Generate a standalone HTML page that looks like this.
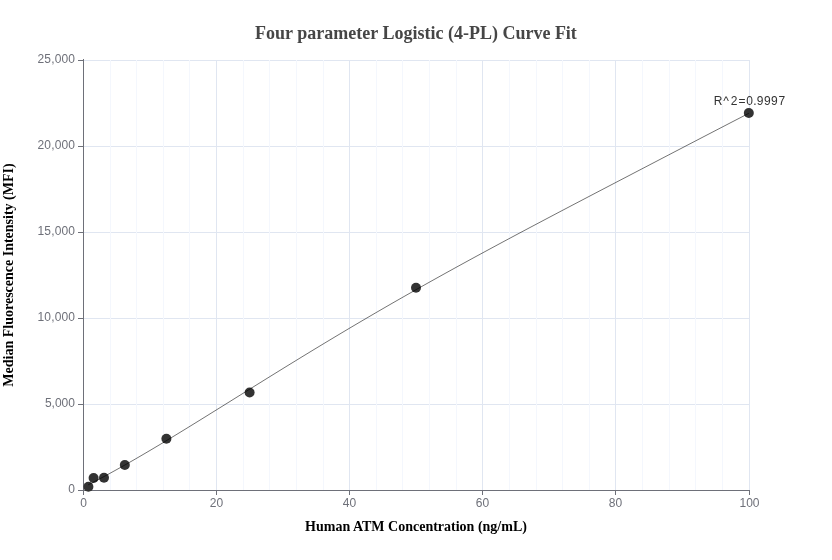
<!DOCTYPE html>
<html><head><meta charset="utf-8"><style>
html,body{margin:0;padding:0;background:#fff;}
body{width:832px;height:560px;overflow:hidden;}
svg{display:block;will-change:transform;}
</style></head><body>
<svg width="832" height="560" viewBox="0 0 832 560">
<rect width="832" height="560" fill="#ffffff"/>
<text x="416" y="39.3" text-anchor="middle" font-family="Liberation Serif" font-weight="bold" font-size="18" fill="#464646">Four parameter Logistic (4-PL) Curve Fit</text>
<g stroke="#E0E6F1" stroke-width="1" shape-rendering="crispEdges"><line x1="216.5" y1="60" x2="216.5" y2="490" /><line x1="349.5" y1="60" x2="349.5" y2="490" /><line x1="482.5" y1="60" x2="482.5" y2="490" /><line x1="615.5" y1="60" x2="615.5" y2="490" /><line x1="749.5" y1="60" x2="749.5" y2="490" /><line x1="83" y1="404.5" x2="749" y2="404.5" /><line x1="83" y1="318.5" x2="749" y2="318.5" /><line x1="83" y1="232.5" x2="749" y2="232.5" /><line x1="83" y1="146.5" x2="749" y2="146.5" /><line x1="83" y1="60.5" x2="749" y2="60.5" /></g>
<g stroke="#F4F7FD" stroke-width="1" shape-rendering="crispEdges"><line x1="110.5" y1="60" x2="110.5" y2="490" /><line x1="136.5" y1="60" x2="136.5" y2="490" /><line x1="163.5" y1="60" x2="163.5" y2="490" /><line x1="189.5" y1="60" x2="189.5" y2="490" /><line x1="243.5" y1="60" x2="243.5" y2="490" /><line x1="269.5" y1="60" x2="269.5" y2="490" /><line x1="296.5" y1="60" x2="296.5" y2="490" /><line x1="323.5" y1="60" x2="323.5" y2="490" /><line x1="376.5" y1="60" x2="376.5" y2="490" /><line x1="402.5" y1="60" x2="402.5" y2="490" /><line x1="429.5" y1="60" x2="429.5" y2="490" /><line x1="456.5" y1="60" x2="456.5" y2="490" /><line x1="509.5" y1="60" x2="509.5" y2="490" /><line x1="536.5" y1="60" x2="536.5" y2="490" /><line x1="562.5" y1="60" x2="562.5" y2="490" /><line x1="589.5" y1="60" x2="589.5" y2="490" /><line x1="642.5" y1="60" x2="642.5" y2="490" /><line x1="669.5" y1="60" x2="669.5" y2="490" /><line x1="695.5" y1="60" x2="695.5" y2="490" /><line x1="722.5" y1="60" x2="722.5" y2="490" /></g>
<g stroke="#6E7079" stroke-width="1" shape-rendering="crispEdges">
<line x1="83.5" y1="59" x2="83.5" y2="491"/>
<line x1="83" y1="490.5" x2="750" y2="490.5"/>
<line x1="78" y1="490.5" x2="83" y2="490.5" /><line x1="78" y1="404.5" x2="83" y2="404.5" /><line x1="78" y1="318.5" x2="83" y2="318.5" /><line x1="78" y1="232.5" x2="83" y2="232.5" /><line x1="78" y1="146.5" x2="83" y2="146.5" /><line x1="78" y1="60.5" x2="83" y2="60.5" /><line x1="83.5" y1="490" x2="83.5" y2="495" /><line x1="216.5" y1="490" x2="216.5" y2="495" /><line x1="349.5" y1="490" x2="349.5" y2="495" /><line x1="482.5" y1="490" x2="482.5" y2="495" /><line x1="615.5" y1="490" x2="615.5" y2="495" /><line x1="749.5" y1="490" x2="749.5" y2="495" /></g>
<g font-family="Liberation Sans" font-size="12" fill="#6E7079"><text x="75" y="492.8" text-anchor="end" textLength="6.9" lengthAdjust="spacing">0</text><text x="75" y="406.8" text-anchor="end" textLength="30.1" lengthAdjust="spacing">5,000</text><text x="75" y="320.8" text-anchor="end" textLength="37.5" lengthAdjust="spacing">10,000</text><text x="75" y="234.8" text-anchor="end" textLength="37.5" lengthAdjust="spacing">15,000</text><text x="75" y="148.8" text-anchor="end" textLength="37.5" lengthAdjust="spacing">20,000</text><text x="75" y="62.8" text-anchor="end" textLength="37.5" lengthAdjust="spacing">25,000</text><text x="83.5" y="507" text-anchor="middle">0</text><text x="216.5" y="507" text-anchor="middle">20</text><text x="349.5" y="507" text-anchor="middle">40</text><text x="482.5" y="507" text-anchor="middle">60</text><text x="615.5" y="507" text-anchor="middle">80</text><text x="749.5" y="507" text-anchor="middle">100</text></g>
<g fill="#333333"><circle cx="88.40" cy="486.7" r="5" /><circle cx="93.60" cy="478" r="5" /><circle cx="104.00" cy="477.7" r="5" /><circle cx="124.80" cy="465" r="5" /><circle cx="166.40" cy="438.7" r="5" /><circle cx="249.60" cy="392.5" r="5" /><circle cx="416.00" cy="287.8" r="5" /><circle cx="748.80" cy="113" r="5" /></g>
<polyline points="88.20,484.82 92.00,482.87 98.00,479.73 104.00,476.54 110.00,473.29 116.00,469.98 122.00,466.63 128.00,463.24 134.00,459.80 140.00,456.32 146.00,452.81 152.00,449.27 158.00,445.70 164.00,442.10 170.00,438.47 176.00,434.83 182.00,431.17 188.00,427.49 194.00,423.79 200.00,420.08 206.00,416.37 212.00,412.64 218.00,408.91 224.00,405.18 230.00,401.44 236.00,397.70 242.00,393.96 248.00,390.22 254.00,386.48 260.00,382.75 266.00,379.03 272.00,375.31 278.00,371.60 284.00,367.89 290.00,364.20 296.00,360.52 302.00,356.84 308.00,353.18 314.00,349.53 320.00,345.90 326.00,342.27 332.00,338.67 338.00,335.07 344.00,331.49 350.00,327.92 356.00,324.37 362.00,320.84 368.00,317.32 374.00,313.81 380.00,310.32 386.00,306.85 392.00,303.39 398.00,299.95 404.00,296.52 410.00,293.11 416.00,289.71 422.00,286.32 428.00,282.95 434.00,279.60 440.00,276.26 446.00,272.93 452.00,269.61 458.00,266.31 464.00,263.02 470.00,259.74 476.00,256.47 482.00,253.22 488.00,249.97 494.00,246.74 500.00,243.51 506.00,240.29 512.00,237.08 518.00,233.88 524.00,230.69 530.00,227.51 536.00,224.33 542.00,221.16 548.00,217.99 554.00,214.83 560.00,211.67 566.00,208.52 572.00,205.37 578.00,202.23 584.00,199.09 590.00,195.95 596.00,192.81 602.00,189.68 608.00,186.54 614.00,183.41 620.00,180.28 626.00,177.16 632.00,174.03 638.00,170.90 644.00,167.77 650.00,164.65 656.00,161.52 662.00,158.39 668.00,155.27 674.00,152.14 680.00,149.02 686.00,145.89 692.00,142.77 698.00,139.65 704.00,136.53 710.00,133.41 716.00,130.29 722.00,127.18 728.00,124.07 734.00,120.96 740.00,117.86 746.00,114.76 748.90,113.27" fill="none" stroke="#000000" stroke-opacity="0.55" stroke-width="1"/>
<text y="104.8" font-family="Liberation Sans" font-size="12" fill="#333333"><tspan x="713.7">R</tspan><tspan x="723.2">^</tspan><tspan x="730.7">2</tspan><tspan x="738.6">=</tspan><tspan x="746.3">0</tspan><tspan x="753.15">.</tspan><tspan x="756.8">9</tspan><tspan x="764.0">9</tspan><tspan x="771.0">9</tspan><tspan x="778.4">7</tspan></text>
<text x="416" y="531.3" text-anchor="middle" font-family="Liberation Serif" font-weight="bold" font-size="14" fill="#000000">Human ATM Concentration (ng/mL)</text>
<text transform="translate(13,275) rotate(-90)" x="0" y="0" text-anchor="middle" font-family="Liberation Serif" font-weight="bold" font-size="14" fill="#000000">Median Fluorescence Intensity (MFI)</text>
</svg>
</body></html>
